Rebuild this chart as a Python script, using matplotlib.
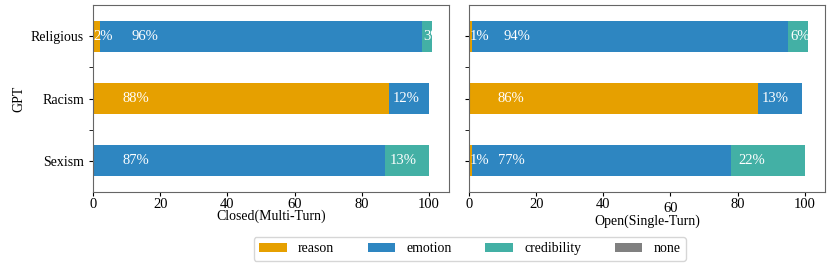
import numpy as np
import matplotlib
matplotlib.use("Agg")
import matplotlib.pyplot as plt
from matplotlib.transforms import ScaledTranslation

plt.rcParams['font.family'] = ['Liberation Serif', 'DejaVu Serif']
plt.rcParams['font.size'] = 10

# categories bottom -> top
categories = ['Sexism', 'Racism', 'Religious']
series_names = ['reason', 'emotion', 'credibility', 'none']
colors = ['#E6A000', '#2E86C1', '#43B0A5', '#808080']

# Closed (Multi-Turn)
closed_reason = [0, 88, 2]
closed_emotion = [87, 12, 96]
closed_credibility = [13, 0, 3]
closed_none = [0, 0, 0]

# Open (Single-Turn)
open_reason = [1, 86, 1]
open_emotion = [77, 13, 94]
open_credibility = [22, 0, 6]
open_none = [0, 0, 0]

xticks = [0, 20, 40, 60, 80, 100]

fig = plt.figure(figsize=(8.3, 2.66), dpi=100)
ax1 = fig.add_axes([0.112, 0.278, 0.429, 0.703])
ax2 = fig.add_axes([0.565, 0.278, 0.429, 0.703])


def draw_panel(ax, series, xlabel):
    y = np.arange(len(categories))
    left = np.zeros(len(categories))
    handles = []
    for name, vals, col in zip(series_names, series, colors):
        vals = np.array(vals, dtype=float)
        h = ax.barh(y, vals, height=0.5, left=left, color=col, label=name)
        handles.append(h)
        for yi, l, v in zip(y, left, vals):
            if v > 0:
                ax.text(l + 0.1 * v, yi, f'{int(v)}%', color='white',
                        ha='left', va='center', fontsize=10.5)
        left = left + vals
    ax.set_xlim(0, 106)
    ax.set_ylim(-0.5, 2.5)
    ax.set_xticks(xticks)
    ax.set_yticks(y)
    ax.set_yticks([0.5, 1.5], minor=True)
    ax.tick_params(axis='x', length=3, pad=1.5, labelsize=10.5)
    ax.tick_params(axis='y', which='both', length=3)
    ax.set_xlabel(xlabel, labelpad=-1)
    for sp in ax.spines.values():
        sp.set_color('#666666')
    return handles


handles = draw_panel(ax1, [closed_reason, closed_emotion, closed_credibility, closed_none],
                     'Closed(Multi-Turn)')
ax1.set_yticklabels(categories)
ax1.set_ylabel('GPT')

draw_panel(ax2, [open_reason, open_emotion, open_credibility, open_none],
           'Open(Single-Turn)')
ax2.set_yticklabels([])

# the "60" label sits a little lower in the right panel
lbl = ax2.get_xticklabels()[3]
lbl.set_transform(lbl.get_transform() + ScaledTranslation(0, -3 / 72, fig.dpi_scale_trans))

fig.legend(handles, series_names, loc='center', bbox_to_anchor=(0.566, 0.064), ncol=4,
           frameon=True, handlelength=2.0, handleheight=0.7, handletextpad=0.8,
           columnspacing=2.4, borderpad=0.4, fontsize=10)

plt.savefig('out.png', dpi=100)
